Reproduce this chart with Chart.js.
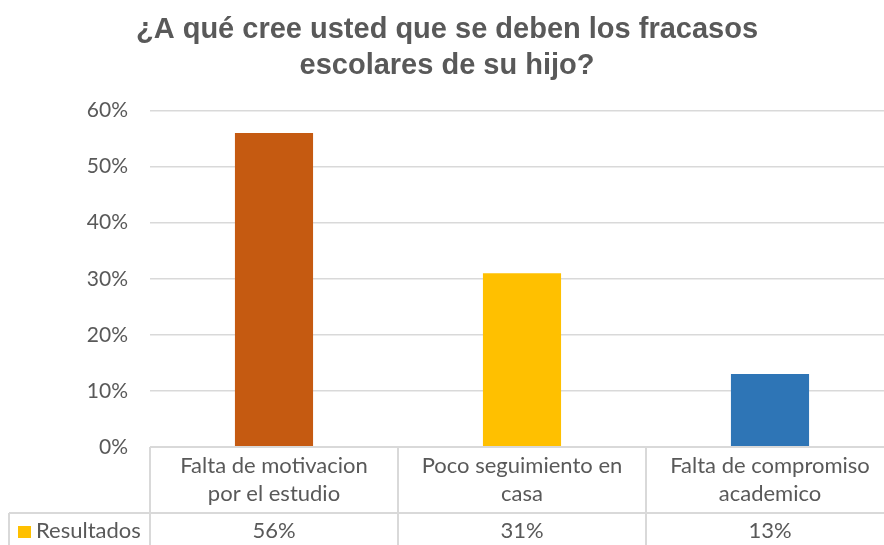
<!DOCTYPE html>
<html>
<head>
<meta charset="utf-8">
<script src="https://cdn.jsdelivr.net/npm/chart.js@4"></script>
<style>
html,body{margin:0;padding:0;background:#fff;overflow:hidden;width:884px;height:545px;}
#wrap{width:884px;height:545px;overflow:hidden;position:relative;}
canvas{display:block;}
</style>
</head>
<body>
<div id="wrap"><canvas id="c" width="894" height="545"></canvas></div>
<script>
const titleLines = ['¿A qué cree usted que se deben los fracasos', 'escolares de su hijo?'];
const categories = [
  ['Falta de motivacion', 'por el estudio'],
  ['Poco seguimiento en', 'casa'],
  ['Falta de compromiso', 'academico']
];
const seriesName = 'Resultados';
const values = [56, 31, 13];
const barColors = ['#C55A11', '#FFC000', '#2E75B6'];
const legendColor = '#FFC000';
const yTicks = [0, 10, 20, 30, 40, 50, 60];

const TEXT = '#595959';
const LINE = '#D9D9D9';
const FONT = 'Lato, "Open Sans", sans-serif';

const tablePlugin = {
  id: 'dataTable',
  afterDraw(chart) {
    const ctx = chart.ctx;
    const xs = chart.scales.x;
    const ca = chart.chartArea;
    const n = categories.length;
    const cw = (ca.right - ca.left) / n;
    const top = ca.bottom;
    const rowY = 513;
    const bottom = chart.height;
    ctx.save();
    ctx.strokeStyle = LINE;
    ctx.lineWidth = 2;
    ctx.beginPath();
    ctx.moveTo(ca.left, top); ctx.lineTo(ca.right, top);
    ctx.moveTo(9, rowY); ctx.lineTo(ca.right, rowY);
    ctx.moveTo(9, rowY); ctx.lineTo(9, bottom);
    for (let i = 0; i <= n; i++) {
      const x = Math.round(ca.left + i * cw);
      ctx.moveTo(x, top); ctx.lineTo(x, bottom);
    }
    ctx.stroke();

    ctx.fillStyle = TEXT;
    ctx.font = '22px ' + FONT;
    ctx.textAlign = 'center';
    ctx.textBaseline = 'middle';
    for (let i = 0; i < n; i++) {
      const cx = xs.getPixelForValue(i);
      const lines = categories[i];
      lines.forEach((t, j) => ctx.fillText(t, cx, 466 + j * 28));
      ctx.fillText(values[i] + '%', cx, 531);
    }
    ctx.fillStyle = legendColor;
    ctx.fillRect(18, 526, 13, 12);
    ctx.fillStyle = TEXT;
    ctx.textAlign = 'left';
    ctx.fillText(seriesName, 36, 531);
    ctx.restore();
  }
};

new Chart(document.getElementById('c'), {
  type: 'bar',
  data: {
    labels: categories,
    datasets: [{
      label: seriesName,
      data: values,
      backgroundColor: barColors,
      borderWidth: 0,
      barPercentage: 0.9,
      categoryPercentage: 0.35
    }]
  },
  options: {
    responsive: false,
    animation: false,
    layout: { padding: { left: 0, right: 0, top: 0, bottom: 98 } },
    plugins: {
      legend: { display: false },
      tooltip: { enabled: false },
      title: {
        display: true,
        text: titleLines,
        color: TEXT,
        font: { family: '"Liberation Sans", Arial, sans-serif', size: 29, weight: 'bold', lineHeight: 1.25 },
        padding: { top: 12, bottom: 26 }
      }
    },
    scales: {
      x: {
        display: false
      },
      y: {
        min: 0,
        max: 60,
        afterFit(s) { s.width = 150; },
        afterBuildTicks(s) { s.ticks = yTicks.map(v => ({ value: v })); },
        border: { display: false },
        grid: { color: LINE, lineWidth: 1.5, drawTicks: false },
        ticks: {
          padding: 22,
          color: TEXT,
          font: { family: FONT, size: 21 },
          callback: v => v + '%'
        }
      }
    }
  },
  plugins: [tablePlugin]
});
</script>
</body>
</html>
